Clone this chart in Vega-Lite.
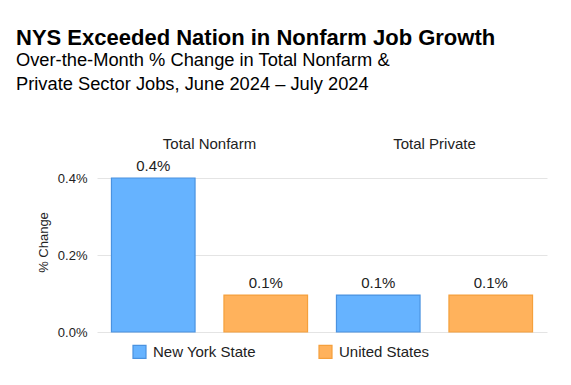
{
  "$schema": "https://vega.github.io/schema/vega-lite/v6.json",
  "width": 450,
  "height": 154,
  "autosize": "none",
  "padding": {"left": 97, "top": 178, "right": 24, "bottom": 53},
  "background": "white",
  "config": {
    "font": "Liberation Sans",
    "view": {"stroke": null}
  },
  "title": {
    "text": "NYS Exceeded Nation in Nonfarm Job Growth",
    "subtitle": ["Over-the-Month % Change in Total Nonfarm &", "Private Sector Jobs, June 2024 – July 2024"],
    "anchor": "start",
    "frame": "group",
    "dx": -81,
    "fontSize": 22,
    "fontWeight": "bold",
    "color": "#000000",
    "subtitleFontSize": 18.3,
    "subtitleLineHeight": 24,
    "subtitleColor": "#000000",
    "subtitlePadding": 2,
    "offset": 42
  },
  "data": {
    "values": [
      {"group": "Total Nonfarm", "series": "New York State", "value": 0.4, "label": "0.4%"},
      {"group": "Total Nonfarm", "series": "United States", "value": 0.096, "label": "0.1%"},
      {"group": "Total Private", "series": "New York State", "value": 0.096, "label": "0.1%"},
      {"group": "Total Private", "series": "United States", "value": 0.096, "label": "0.1%"}
    ]
  },
  "encoding": {
    "x": {
      "field": "group",
      "type": "nominal",
      "sort": ["Total Nonfarm", "Total Private"],
      "scale": {"paddingInner": 0, "paddingOuter": 0},
      "axis": {
        "orient": "top",
        "title": null,
        "labelAngle": 0,
        "domain": false,
        "ticks": false,
        "tickSize": 0,
        "labelPadding": 27,
        "labelFontSize": 15,
        "labelColor": "#222222"
      }
    },
    "xOffset": {
      "field": "series",
      "type": "nominal",
      "sort": ["New York State", "United States"],
      "scale": {"paddingInner": 0.257, "paddingOuter": 0.1285}
    },
    "y": {
      "field": "value",
      "type": "quantitative",
      "scale": {"domain": [0, 0.4], "nice": false},
      "axis": {
        "title": "% Change",
        "titleFontSize": 13,
        "titleFontWeight": "normal",
        "titleColor": "#222222",
        "titleX": -54,
        "titleY": 64,
        "titleAngle": -90,
        "titleAlign": "center",
        "titleBaseline": "middle",
        "values": [0, 0.2, 0.4],
        "labelExpr": "format(datum.value, '.1f') + '%'",
        "labelFontSize": 13,
        "labelColor": "#222222",
        "labelPadding": 10,
        "domain": false,
        "ticks": false,
        "tickSize": 0,
        "grid": true,
        "gridColor": "#e4e4e4"
      }
    }
  },
  "layer": [
    {
      "mark": {"type": "bar", "strokeWidth": 1.2},
      "encoding": {
        "color": {
          "field": "series",
          "type": "nominal",
          "scale": {"domain": ["New York State", "United States"], "range": ["#66b3ff", "#ffb25c"]},
          "legend": {
            "orient": "none",
            "direction": "horizontal",
            "legendX": 35,
            "legendY": 166,
            "title": null,
            "padding": 0,
            "symbolType": "square",
            "symbolSize": 169,
            "symbolStrokeWidth": 1.2,
            "labelFontSize": 15,
            "labelColor": "#222222",
            "labelOffset": 6,
            "columnPadding": 60
          }
        },
        "stroke": {
          "field": "series",
          "type": "nominal",
          "scale": {"domain": ["New York State", "United States"], "range": ["#4a92e0", "#f5a03c"]},
          "legend": null
        }
      }
    },
    {
      "mark": {"type": "text", "baseline": "bottom", "dy": -4, "fontSize": 15, "color": "#222222"},
      "encoding": {
        "text": {"field": "label", "type": "nominal"},
        "y": {"field": "value", "type": "quantitative"}
      }
    }
  ]
}
